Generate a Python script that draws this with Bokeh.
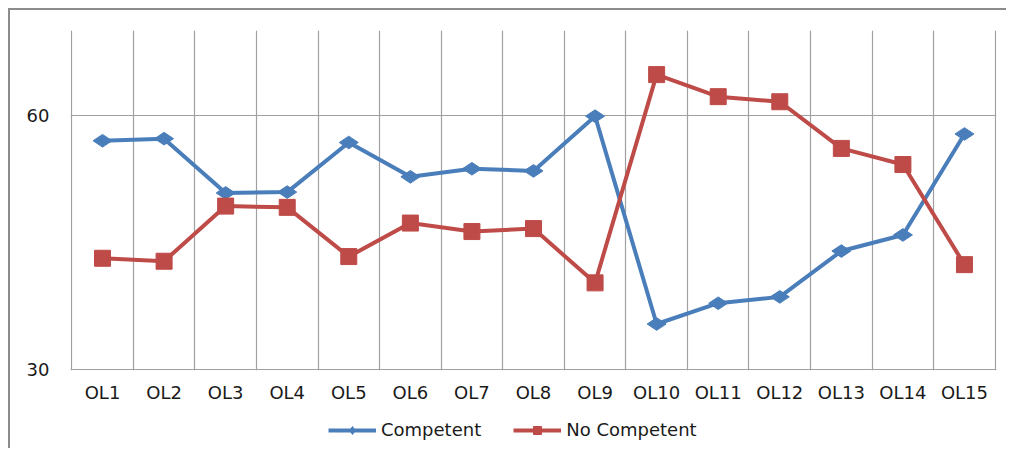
import numpy as np
from bokeh.plotting import figure
from bokeh.layouts import column
from bokeh.models import (Range1d, FixedTicker, Legend, LegendItem)
from bokeh.embed import file_html
from bokeh.resources import INLINE

categories = ["OL1", "OL2", "OL3", "OL4", "OL5", "OL6", "OL7", "OL8",
              "OL9", "OL10", "OL11", "OL12", "OL13", "OL14", "OL15"]
competent = [57.0, 57.25, 50.85, 50.95, 56.8, 52.75, 53.7, 53.45,
             59.9, 35.4, 37.85, 38.6, 44.0, 45.9, 57.8]
no_competent = [43.15, 42.8, 49.3, 49.15, 43.35, 47.3, 46.3, 46.65,
                40.25, 64.8, 62.2, 61.6, 56.1, 54.2, 42.4]
y_ticks = [30, 60]
series_names = ["Competent", "No Competent"]

x = np.arange(len(categories)) + 0.5
FONT = "DejaVu Sans"
BLUE = "#4a7ebb"
RED = "#be4b48"
BORDER = "2px solid #8c8c8c"
EPS = 0.02

p = figure(width=998, height=395, output_backend="svg", toolbar_location=None,
           x_range=Range1d(-EPS, len(categories) + EPS),
           y_range=Range1d(30 - 0.08, 70),
           min_border_left=60, min_border_right=12, min_border_top=20,
           min_border_bottom=35)
p.outline_line_color = None
p.background_fill_color = "white"
p.border_fill_color = "white"
p.styles = {"margin-left": "8px", "margin-top": "8px",
            "border-left": BORDER, "border-top": BORDER}

# axes
for ax in (p.xaxis[0], p.yaxis[0]):
    ax.axis_line_color = None
    ax.major_tick_line_color = None
    ax.minor_tick_line_color = None
    ax.major_label_text_font = FONT
    ax.major_label_text_font_size = "18px"
    ax.major_label_text_color = "#1a1a1a"

p.xaxis.ticker = FixedTicker(ticks=list(x))
p.xaxis.major_label_overrides = {float(v): c for v, c in zip(x, categories)}
p.xaxis.major_label_standoff = 5
p.yaxis.ticker = FixedTicker(ticks=y_ticks)
p.yaxis.major_label_standoff = 15

# grids
p.xgrid.ticker = FixedTicker(ticks=list(range(len(categories) + 1)))
p.xgrid.grid_line_color = "#a0a0a0"
p.xgrid.grid_line_width = 1.2
p.ygrid.ticker = FixedTicker(ticks=y_ticks)
p.ygrid.grid_line_color = "#a0a0a0"
p.ygrid.grid_line_width = 1.2

# series
p.line(x, competent, line_color=BLUE, line_width=4)
p.scatter(x, competent, marker="diamond", angle=np.pi / 2, size=19,
          fill_color=BLUE, line_color=BLUE)
p.line(x, no_competent, line_color=RED, line_width=4)
p.scatter(x, no_competent, marker="square", size=16,
          fill_color=RED, line_color=RED)

# legend strip below the chart (same series, drawn out of view; only the
# legend is visible here)
q = figure(width=998, height=45, output_backend="svg", toolbar_location=None,
           x_range=Range1d(0, len(categories)), y_range=Range1d(0, 1),
           x_axis_location=None, y_axis_location=None,
           min_border=0, min_border_left=0, min_border_right=0,
           min_border_top=0, min_border_bottom=0)
q.grid.visible = False
q.outline_line_color = None
q.border_fill_color = "white"
q.styles = {"margin-left": "8px", "border-left": BORDER}
ql1 = q.line(x, competent, line_color=BLUE, line_width=4)
qm1 = q.scatter(x, competent, marker="diamond", angle=np.pi / 2, size=17,
                fill_color=BLUE, line_color=BLUE)
ql2 = q.line(x, no_competent, line_color=RED, line_width=4)
qm2 = q.scatter(x, no_competent, marker="square", size=15,
                fill_color=RED, line_color=RED)

legend = Legend(items=[LegendItem(label=series_names[0], renderers=[ql1, qm1]),
                       LegendItem(label=series_names[1], renderers=[ql2, qm2])],
                orientation="horizontal", location=(258, 8),
                glyph_width=48, glyph_height=20, label_standoff=5, spacing=32,
                padding=0, margin=0, border_line_color=None,
                background_fill_alpha=0, label_text_font=FONT,
                label_text_font_size="18px", label_text_color="#1a1a1a")
q.add_layout(legend, "center")

layout = column(p, q, spacing=0)
open("out.html", "w").write(file_html(layout, INLINE))
